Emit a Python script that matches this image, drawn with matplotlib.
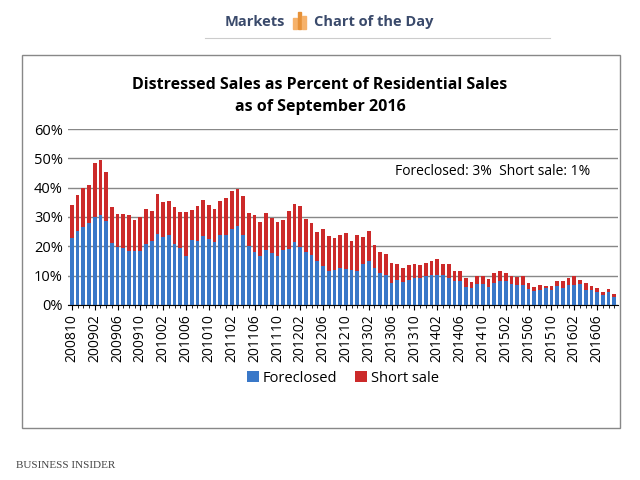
import matplotlib.pyplot as plt
import matplotlib.patches as patches
import numpy as np

# monthly, 2008-10 .. 2016-09 (percent of residential sales)
totals = [34.1, 37.4, 39.9, 41.0, 48.3, 49.3, 45.3, 33.4, 30.9, 30.9, 30.5, 28.9,
          30.0, 32.6, 32.2, 38.0, 35.1, 35.3, 33.3, 31.6, 31.6, 32.5, 33.8, 35.7,
          34.0, 32.6, 35.3, 36.5, 38.9, 39.7, 37.0, 31.3, 30.5, 28.3, 31.3, 29.7,
          28.2, 28.9, 31.9, 34.3, 33.6, 29.2, 27.8, 24.8, 25.8, 23.5, 22.8, 24.0,
          24.4, 21.8, 23.8, 23.3, 25.2, 20.5, 18.0, 17.3, 14.4, 14.1, 12.4, 13.5,
          13.8, 13.5, 14.4, 14.8, 15.5, 14.1, 13.8, 11.4, 11.4, 9.0, 7.8, 9.8,
          9.8, 8.9, 11.0, 11.5, 10.8, 9.7, 9.4, 9.7, 7.3, 6.1, 6.6, 6.4,
          6.4, 8.2, 8.2, 9.1, 9.9, 8.6, 7.3, 6.5, 5.9, 4.3, 5.3, 3.6]
foreclosed = [22.7, 25.2, 26.6, 28.0, 30.0, 30.6, 28.6, 21.0, 19.8, 19.5, 18.3, 18.4,
              18.3, 20.7, 21.8, 24.3, 23.0, 23.8, 20.9, 19.3, 16.6, 22.0, 21.8, 23.4,
              22.4, 21.4, 23.8, 23.8, 25.9, 26.8, 24.0, 20.0, 18.1, 16.6, 18.8, 17.6,
              16.6, 18.6, 19.0, 21.4, 19.8, 18.1, 16.9, 15.0, 13.3, 11.5, 11.9, 12.4,
              12.2, 11.9, 11.5, 13.8, 14.9, 12.6, 10.7, 10.1, 7.3, 8.3, 7.7, 8.5,
              9.0, 9.1, 9.8, 10.2, 10.3, 10.1, 9.3, 8.1, 8.1, 6.1, 5.7, 7.0,
              7.0, 6.1, 7.6, 8.1, 8.0, 7.0, 6.8, 6.8, 5.3, 4.8, 4.9, 5.6,
              5.0, 6.4, 5.8, 6.8, 6.8, 7.0, 5.2, 4.9, 4.3, 3.4, 4.3, 2.8]
short_sale = [t - f for t, f in zip(totals, foreclosed)]

months = []
y, m = 2008, 10
for i in range(len(totals)):
    months.append("%d%02d" % (y, m))
    m += 1
    if m > 12:
        m = 1
        y += 1

plt.rcParams['font.family'] = ['Open Sans', 'DejaVu Sans']

fig = plt.figure(figsize=(6.4, 4.8), dpi=100)
fig.patch.set_facecolor('white')

# header
fig.text(0.445, 0.955, "Markets", ha='right', va='center', fontsize=10.5,
         color='#3a4a6b', fontweight='bold')
for dx, h, c in [(0, 0.022, '#f6b26b'), (0.007, 0.034, '#e69138'), (0.014, 0.026, '#f6b26b')]:
    fig.patches.append(patches.Rectangle((0.458 + dx, 0.94), 0.006, h, transform=fig.transFigure,
                                         color=c))
fig.text(0.49, 0.955, "Chart of the Day", ha='left', va='center', fontsize=10.5,
         color='#3a4a6b', fontweight='bold')
fig.lines.append(plt.Line2D([0.32, 0.86], [0.92, 0.92], transform=fig.transFigure,
                            color='#cccccc', lw=0.8))
# frame
fig.patches.append(patches.Rectangle((0.034, 0.108), 0.935, 0.778, transform=fig.transFigure,
                                     fill=False, ec='#888888', lw=1))
fig.text(0.5, 0.8, "Distressed Sales as Percent of Residential Sales\nas of September 2016",
         ha='center', va='center', fontsize=11.5, fontweight='bold', linespacing=1.5)
fig.text(0.025, 0.03, "BUSINESS INSIDER", fontsize=8, family='Liberation Serif', color='#444444',
         va='center')

ax = fig.add_axes([0.106, 0.365, 0.86, 0.366])
x = np.arange(len(totals))
ax.bar(x, [f / 100 for f in foreclosed], width=0.65, color='#3a78c8', label='Foreclosed')
ax.bar(x, [s / 100 for s in short_sale], width=0.65, bottom=[f / 100 for f in foreclosed],
       color='#cc2a2a', label='Short sale')
ax.set_ylim(0, 0.6)
ax.set_xlim(-0.7, len(totals) - 0.3)
ax.set_yticks(np.arange(0, 0.61, 0.1))
ax.set_yticklabels(["%d%%" % v for v in range(0, 61, 10)], fontsize=10.5)
ax.set_xticks(x[::4])
ax.set_xticklabels(months[::4], rotation=90, fontsize=10)
ax.set_xticks(x, minor=True)
ax.grid(axis='y', color='#888888', lw=1)
ax.set_axisbelow(True)
for s in ['top', 'right', 'left']:
    ax.spines[s].set_visible(False)
ax.tick_params(axis='y', length=0)
ax.text(0.95, 0.76, "Foreclosed: 3%  Short sale: 1%", ha='right', va='center', fontsize=10,
        transform=ax.transAxes)
ax.legend(loc='upper center', bbox_to_anchor=(0.5, -0.3), ncol=2, frameon=False,
          fontsize=10.5, handlelength=0.8, handletextpad=0.3, columnspacing=1.2)

fig.savefig("out.png", dpi=100)
